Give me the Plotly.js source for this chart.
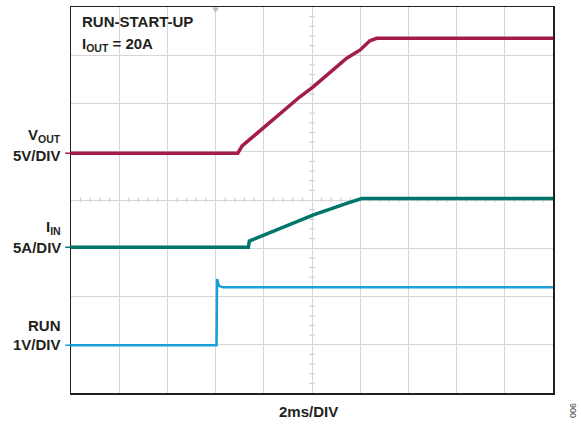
<!DOCTYPE html>
<html>
<head>
<meta charset="utf-8">
<script src="https://cdn.plot.ly/plotly-3.0.1.min.js"></script>
<style>html,body{margin:0;padding:0;background:#fff;}#chart{width:581px;height:426px;}</style>
</head>
<body>
<div id="chart"></div>
<script>
// Time axis in divisions (2 ms/DIV), vertical in screen divisions
const voutX = [0, 3.46, 3.55, 4.34, 4.75, 5.03, 5.72, 6.00, 6.20, 6.34, 10];
const voutY = [4.97, 4.97, 5.12, 5.80, 6.14, 6.35, 6.94, 7.11, 7.30, 7.35, 7.35];
const iinX  = [0, 3.68, 3.70, 4.34, 4.75, 5.03, 5.72, 6.03, 10];
const iinY  = [3.02, 3.02, 3.15, 3.41, 3.59, 3.69, 3.93, 4.03, 4.03];
const runX  = [0, 3.02, 3.03, 3.07, 3.15, 10];
const runY  = [0.99, 0.99, 2.36, 2.22, 2.19, 2.19];
const groundLevels = [4.97, 3.02, 0.99];
const triggerPos = 3.0;
const traceColors = ['#A31D48', '#00756A', '#1A9FD8'];
const labelTop = ['V<sub>OUT</sub>', 'I<sub>IN</sub>', 'RUN'];
const labelBottom = ['5V/DIV', '5A/DIV', '1V/DIV'];
const labelTopY = [5.33, 3.43, 1.40];
const labelBottomY = [4.93, 3.01, 1.00];

const FONT = 'Liberation Sans, Arial, sans-serif';

const traces = [
  {x: voutX, y: voutY, mode: 'lines', line: {color: traceColors[0], width: 3.5}, hoverinfo: 'skip'},
  {x: iinX, y: iinY, mode: 'lines', line: {color: traceColors[1], width: 3.5}, hoverinfo: 'skip'},
  {x: runX, y: runY, mode: 'lines', line: {color: traceColors[2], width: 2.5}, hoverinfo: 'skip'}
];

const shapes = [];
// minor ticks on centre lines
for (let i = 1; i < 50; i++) {
  const xv = i * 0.2;
  if (i % 5 === 0) continue;
  shapes.push({type: 'line', xref: 'x', yref: 'y', x0: xv, x1: xv, y0: 3.95, y1: 4.05, line: {color: '#c8c8c8', width: 1}, layer: 'below'});
}
for (let i = 1; i < 40; i++) {
  const yv = i * 0.2;
  if (i % 5 === 0) continue;
  shapes.push({type: 'line', xref: 'x', yref: 'y', x0: 4.94, x1: 5.06, y0: yv, y1: yv, line: {color: '#c8c8c8', width: 1}, layer: 'below'});
}
// ground markers at left edge
groundLevels.forEach((g, i) => {
  shapes.push({type: 'line', xref: 'paper', yref: 'y', x0: -0.012, x1: 0, y0: g, y1: g, line: {color: traceColors[i], width: 1.5}});
});
// trigger position marker
shapes.push({type: 'path', xref: 'x', yref: 'y', path: 'M ' + (triggerPos - 0.07) + ' 7.99 L ' + (triggerPos + 0.07) + ' 7.99 L ' + triggerPos + ' 7.88 Z', fillcolor: '#bdbdbd', line: {width: 0}});

const annotations = [];
for (let i = 0; i < 3; i++) {
  annotations.push({xref: 'paper', yref: 'y', x: -0.017, y: labelTopY[i], xanchor: 'right', yanchor: 'middle', text: '<b>' + labelTop[i] + '</b>', showarrow: false, font: {family: FONT, size: 15, color: '#231f20'}});
  annotations.push({xref: 'paper', yref: 'y', x: -0.017, y: labelBottomY[i], xanchor: 'right', yanchor: 'middle', text: '<b>' + labelBottom[i] + '</b>', showarrow: false, font: {family: FONT, size: 15, color: '#231f20'}});
}
annotations.push({xref: 'x', yref: 'y', x: 0.18, y: 7.70, xanchor: 'left', yanchor: 'middle', text: '<b>RUN-START-UP</b>', showarrow: false, font: {family: FONT, size: 15, color: '#231f20'}});
annotations.push({xref: 'x', yref: 'y', x: 0.18, y: 7.23, xanchor: 'left', yanchor: 'middle', text: '<b>I<sub>OUT</sub> = 20A</b>', showarrow: false, font: {family: FONT, size: 15, color: '#231f20'}});
annotations.push({xref: 'paper', yref: 'paper', x: 0.493, y: -0.049, xanchor: 'center', yanchor: 'middle', text: '<b>2ms/DIV</b>', showarrow: false, font: {family: FONT, size: 15, color: '#231f20'}});
annotations.push({xref: 'paper', yref: 'paper', x: 1.043, y: -0.045, xanchor: 'center', yanchor: 'middle', text: '006', textangle: -90, showarrow: false, font: {family: FONT, size: 9, color: '#444'}});

const layout = {
  width: 581, height: 426,
  margin: {l: 71, r: 28, t: 7, b: 33},
  paper_bgcolor: '#fff', plot_bgcolor: '#fff',
  showlegend: false,
  xaxis: {range: [0, 10], dtick: 1, tick0: 0, showticklabels: false, ticks: '', showgrid: true, gridcolor: '#d6d6d6', gridwidth: 1, zeroline: false, showline: true, mirror: true, linecolor: '#231f20', linewidth: 1.5, fixedrange: true},
  yaxis: {range: [0, 8], dtick: 1, tick0: 0, showticklabels: false, ticks: '', showgrid: true, gridcolor: '#d6d6d6', gridwidth: 1, zeroline: false, showline: true, mirror: true, linecolor: '#231f20', linewidth: 1.5, fixedrange: true},
  shapes: shapes,
  annotations: annotations
};

Plotly.newPlot('chart', traces, layout, {displayModeBar: false, staticPlot: true});
</script>
</body>
</html>
